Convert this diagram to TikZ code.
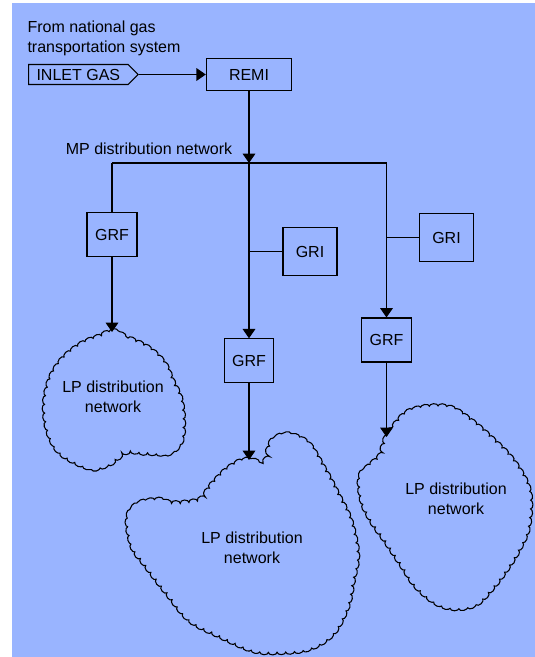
\documentclass[tikz,border=0pt]{standalone}
\usepackage{fontspec}
\setmainfont{Liberation Sans}
\usetikzlibrary{arrows.meta,shapes.symbols,decorations.pathmorphing}
\definecolor{sheet}{RGB}{153,180,255}

\begin{document}
\begin{tikzpicture}[x=0.75pt,y=-0.75pt,>={Triangle[length=7pt,width=9.5pt]},
  font=\fontsize{12}{15}\selectfont,line width=0.8pt,
  unit/.style={rectangle,draw,minimum width=37.5pt,minimum height=33.5pt,inner sep=0pt},
  inlet/.style={signal,signal to=east,draw,minimum height=15pt,inner xsep=6pt,inner ysep=0pt},
  lp/.style={align=center,inner sep=0pt},
  puff/.style={draw,decorate,decoration={bumps,segment length=13pt,amplitude=2pt}},
  a/.style={->}]
  \useasboundingbox (0,0) rectangle (535,657);
  \fill[sheet] (12,3) rectangle (535,657);
  % supply side
  \node[align=left,anchor=north west,inner sep=0pt] (src) at (27,20) {From national gas\\transportation system};
  \node[inlet,anchor=west] (inlet) at (28,74.5) {INLET GAS};
  \node[unit,minimum width=64pt,minimum height=24pt] (remi) at (249,74.5) {REMI};
  \draw[a] (inlet.east) -- (remi.west);
  % MP network
  \coordinate (mp) at (249,163);
  \coordinate (mpL) at (112,163);
  \coordinate (mpR) at (386.5,163);
  \node (mptxt) at (149,149) {MP distribution network};
  \draw[a] (remi.south) -- (mp);
  \draw (mpL) -- (mpR);
  \node[unit] (grfA) at (112,234.5) {GRF};
  \node[unit,minimum width=40.5pt,minimum height=36.5pt] (griB) at (310,251.5) {GRI};
  \node[unit,minimum width=37pt,minimum height=32.5pt] (grfB) at (249,360.5) {GRF};
  \node[unit,minimum width=40pt,minimum height=36.5pt] (griC) at (446.5,237.5) {GRI};
  \node[unit,minimum width=37pt,minimum height=33pt] (grfC) at (386.5,340) {GRF};
  \draw (mpL) -- (grfA.north);
  \draw[a] (mp) -- (grfB.north);
  \draw[a] (mpR) -- (grfC.north);
  \draw (griB.west) -- (griB.west -| mp);
  \draw (griC.west) -- (griC.west -| mpR);
  % LP networks
  \coordinate (lpAin) at (112,332);
  \coordinate (lpBin) at (249,460);
  \coordinate (lpCin) at (386.5,437);
  \draw[puff] plot[smooth cycle,tension=0.6] coordinates {(lpAin) (128,338) (148,348) (163,362)
    (172,380) (180,398) (183,420) (181,440) (170,452) (150,453) (128,452) (112,462)
    (95,468) (75,462) (58,450) (48,430) (45,405) (50,380) (62,360) (80,345) (98,337)};
  \draw[puff] plot[smooth cycle,tension=0.6] coordinates {(lpBin) (263,462) (272,442) (287,435)
    (307,443) (323,467) (337,493) (350,520) (357,553) (353,580) (347,607) (333,633)
    (310,648) (280,652) (253,650) (220,636) (190,620) (167,593) (147,567) (133,547)
    (128,520) (137,505) (157,500) (173,503) (198,500) (210,487) (223,473) (237,463)};
  \draw[puff] plot[smooth cycle,tension=0.6] coordinates {(lpCin) (393,427) (407,413) (427,407)
    (450,408) (470,420) (490,437) (510,457) (525,480) (530,500) (528,527) (520,547)
    (508,567) (493,587) (477,603) (457,608) (437,603) (417,587) (403,567) (387,543)
    (373,523) (363,503) (360,480) (367,468) (378,458) (383,447)};
  \node[lp] (lpA) at (113,397) {LP distribution\\network};
  \node[lp] (lpB) at (252,548) {LP distribution\\network};
  \node[lp] (lpC) at (456,499) {LP distribution\\network};
  \draw[a] (grfA.south) -- (lpAin);
  \draw[a] (grfB.south) -- (lpBin);
  \draw[a] (grfC.south) -- (lpCin);
\end{tikzpicture}
\end{document}
